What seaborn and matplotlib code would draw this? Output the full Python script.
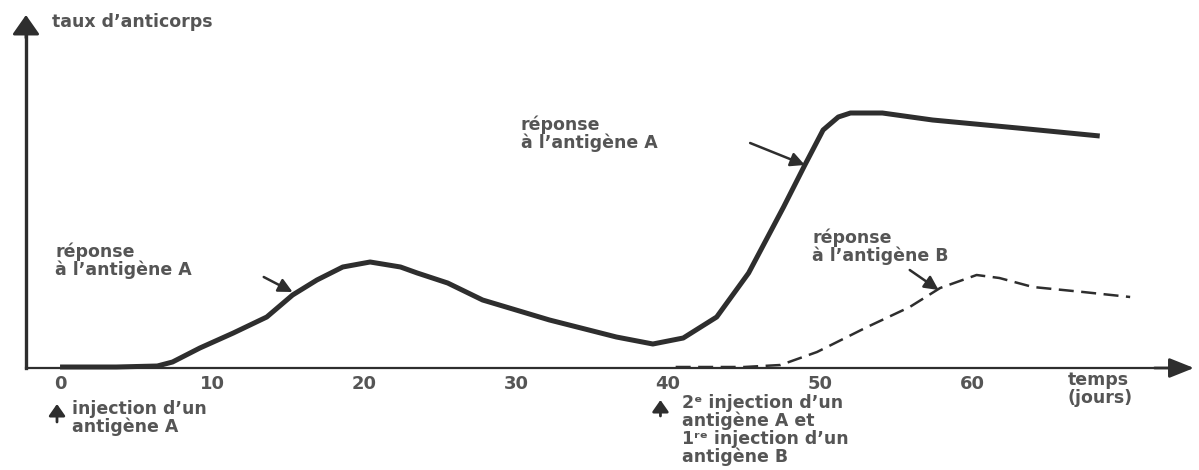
import numpy as np
import pandas as pd
import matplotlib
matplotlib.use("Agg")
import matplotlib.pyplot as plt
import seaborn as sns

# --- Données ---
jours_a = [0, 3.7, 6.4, 7.4, 9.2, 11.4, 13.6, 15.3, 16.9, 18.6, 20.4, 22.4, 23.5, 25.5,
           27.8, 32.2, 36.6, 39.0, 41.0, 43.2, 45.3, 47.6, 49.0, 50.2, 51.2, 52.0,
           54.1, 57.4, 63.0, 68.4]
taux_a = [1, 1, 2, 6, 20, 35, 51, 73, 88, 101, 106, 101, 95, 85,
          68, 48, 31, 24, 30, 51, 95, 161, 203, 238, 251, 255,
          255, 248, 240, 232]

jours_b = [40.5, 45.0, 47.4, 49.8, 53.1, 55.9, 57.9, 60.3, 61.8, 64.0, 67.3, 70.4]
taux_b = [1, 1, 3, 16, 41, 61, 80, 93, 90, 81, 76, 71]

graduations = [0, 10, 20, 30, 40, 50, 60]

GRIS_TRAIT = "#2e2e2e"
GRIS_TEXTE = "#555555"

sns.set_theme(style="white")
plt.rcParams["font.family"] = ["DejaVu Sans"]

df_a = pd.DataFrame({"jours": jours_a, "taux": taux_a})
df_b = pd.DataFrame({"jours": jours_b, "taux": taux_b})

fig = plt.figure(figsize=(11.99, 4.70), dpi=100)
ax = fig.add_axes([0, 0, 1, 1])

sns.lineplot(data=df_a, x="jours", y="taux", ax=ax, color=GRIS_TRAIT,
             linewidth=3.6, sort=False, solid_capstyle="butt")
sns.lineplot(data=df_b, x="jours", y="taux", ax=ax, color=GRIS_TRAIT,
             linewidth=1.8, sort=False, dashes=False)
ax.lines[-1].set_dashes((6, 3))

ax.set_xlim(-3.95, 74.93)
ax.set_ylim(-102, 368)
ax.set_xlabel("")
ax.set_ylabel("")

# axes avec flèches
ax.spines["top"].set_visible(False)
ax.spines["right"].set_visible(False)
ax.spines["bottom"].set_position(("data", 0))
ax.spines["bottom"].set_bounds(-2.24, 73)
ax.spines["bottom"].set_linewidth(1.6)
ax.spines["bottom"].set_color(GRIS_TRAIT)
ax.spines["left"].set_position(("data", -2.24))
ax.spines["left"].set_bounds(0, 340)
ax.spines["left"].set_linewidth(2.4)
ax.spines["left"].set_color(GRIS_TRAIT)

ax.set_xticks(graduations)
ax.set_xticklabels([str(g) for g in graduations], fontsize=13, fontweight="bold",
                   color=GRIS_TEXTE)
ax.set_yticks([])
ax.tick_params(axis="x", direction="in", length=7, width=1.6, color=GRIS_TRAIT, pad=5)

tete = dict(arrowstyle="-|>,head_length=0.6,head_width=0.42", color=GRIS_TRAIT,
            lw=2, mutation_scale=20, shrinkA=0, shrinkB=0)
ax.annotate("", xy=(-2.24, 353), xytext=(-2.24, 330), arrowprops=tete)
tete_x = dict(tete, arrowstyle="-|>,head_length=0.75,head_width=0.3")
ax.annotate("", xy=(74.6, 0), xytext=(72.0, 0), arrowprops=tete_x)

style_txt = dict(fontsize=12.5, fontweight="bold", color=GRIS_TEXTE, linespacing=0.98)

ax.text(-0.5, 346, "taux d’anticorps", va="center", ha="left", **style_txt)
ax.text(-0.3, 107, "réponse\nà l’antigène A", va="center", ha="left", **style_txt)
ax.text(30.3, 234, "réponse\nà l’antigène A", va="center", ha="left", **style_txt)
ax.text(49.5, 121, "réponse\nà l’antigène B", va="center", ha="left", **style_txt)
ax.text(66.3, -21, "temps\n(jours)", va="center", ha="left", **style_txt)
ax.text(0.8, -50, "injection d’un\nantigène A", va="center", ha="left", **style_txt)
ax.text(40.9, -62,
        "2ᵉ injection d’un\nantigène A et\n1ʳᵉ injection d’un\nantigène B",
        va="center", ha="left", **style_txt)

fleche = dict(arrowstyle="-|>,head_length=0.6,head_width=0.3", color=GRIS_TRAIT,
              lw=1.8, mutation_scale=14, shrinkA=0, shrinkB=0)
ax.annotate("", xy=(15.3, 76), xytext=(13.4, 91), arrowprops=fleche)
ax.annotate("", xy=(49.0, 203), xytext=(45.4, 225), arrowprops=fleche)
ax.annotate("", xy=(57.8, 78), xytext=(55.9, 98), arrowprops=fleche)

petite = dict(arrowstyle="-|>,head_length=0.5,head_width=0.35", color=GRIS_TRAIT,
              lw=2, mutation_scale=14, shrinkA=0, shrinkB=0)
ax.annotate("", xy=(-0.2, -36), xytext=(-0.2, -54), arrowprops=petite)
ax.annotate("", xy=(39.5, -32), xytext=(39.5, -48), arrowprops=petite)

fig.savefig("out.png", dpi=100)
